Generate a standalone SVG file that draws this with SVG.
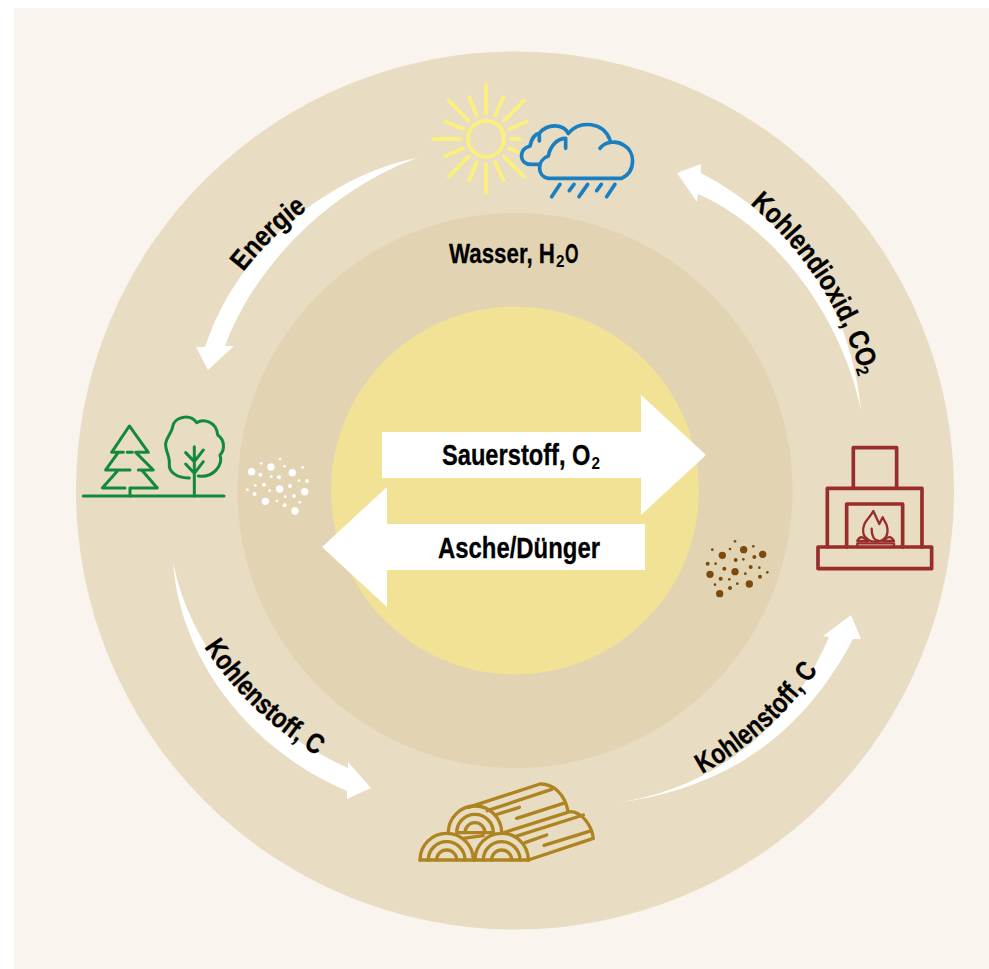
<svg xmlns="http://www.w3.org/2000/svg" width="989" height="969" viewBox="0 0 989 969">
<style>
text{font-family:"Liberation Sans",Arial,sans-serif;font-weight:700;fill:#000;font-size:28px;stroke:#000;stroke-width:.3px}
.m{font-size:29px}
.s{font-size:17px;stroke-width:0}
.i{fill:none;stroke-linecap:round;stroke-linejoin:round}
.a{fill:#fff}
</style>
<defs>
<path id="pe" d="M243,272 A350,350 0 0 1 350,182"/>
<path id="pk" d="M750,204 A365,365 0 0 1 872,420"/>
<path id="pl" d="M204,647 Q246,711 311,752 L340,770"/>
<path id="pr" d="M702,774 A345,345 0 0 0 845,625"/>
</defs>
<rect width="989" height="969" fill="#fff"/>
<rect x="14" y="8" width="975" height="961" fill="#f9f4ed"/>
<circle cx="515" cy="490.500" r="439" fill="#e8dcc2"/>
<circle cx="515" cy="490.500" r="277.500" fill="#e2d3b3"/>
<circle cx="515" cy="490.500" r="184" fill="#f1e295"/>

<g id="connectors">
<path class="a" d="M417,158 C340,172 240,240 205,347 L196,347 L208,370 L234,346 L225,346 C255,265 330,190 417,158Z"/>
<path class="a" d="M861,410 C850,300 790,220 701,173 L701,164 L677,173 L697,202 L698,194 C770,225 840,310 861,410Z"/>
<path class="a" d="M173,562 C190,650 260,730 348,768 L348,762 L371,788 L347,799 L347,791 C250,750 180,660 173,562Z"/>
<path class="a" d="M615,803 C710,790 790,730 829,637 L823,636 L851,615 L861,639 L853,639 C800,740 720,790 615,803Z"/>
<path class="a" d="M382,432H641V395L706,455L641,515V478H382Z"/>
<path class="a" d="M645,524H387V487L322,547L387,607V570H645Z"/>
</g>

<g id="label-wasser">
<text x="449" y="263" textLength="106" lengthAdjust="spacingAndGlyphs" style="font-size:27px">Wasser, H</text>
<text class="s" x="556" y="267" textLength="8.500" lengthAdjust="spacingAndGlyphs">2</text>
<text x="565" y="263" textLength="13.500" lengthAdjust="spacingAndGlyphs" style="font-size:27px">O</text>
</g>
<g id="label-sauerstoff">
<text class="m" x="442" y="465" textLength="148.500" lengthAdjust="spacingAndGlyphs">Sauerstoff, O</text>
<text class="s" x="591.500" y="469" textLength="8.500" lengthAdjust="spacingAndGlyphs">2</text>
</g>
<g id="label-asche"><text class="m" x="438" y="558" textLength="162" lengthAdjust="spacingAndGlyphs">Asche/Dünger</text></g>
<g id="label-energie"><text><textPath href="#pe" textLength="90" lengthAdjust="spacingAndGlyphs">Energie</textPath></text></g>
<g id="label-co2">
<text><textPath href="#pk" textLength="200" lengthAdjust="spacingAndGlyphs">Kohlendioxid, CO</textPath></text>
<text class="s" transform="translate(855.400,368.400) rotate(72)" textLength="9" lengthAdjust="spacingAndGlyphs">2</text>
</g>
<g id="label-c-left"><text><textPath href="#pl" textLength="158" lengthAdjust="spacingAndGlyphs">Kohlenstoff, C</textPath></text></g>
<g id="label-c-right"><text><textPath href="#pr" textLength="157" lengthAdjust="spacingAndGlyphs">Kohlenstoff, C</textPath></text></g>

<g id="sun" class="i" transform="translate(420,70) scale(.3333)" stroke="#fbf07f" stroke-width="12">
<circle cx="198" cy="206" r="54"/>
<path d="M198,45V130M198,283V368M40,207H122M273,207H300M87,92L145,152M312,92L252,152M87,320L145,260M312,320L252,260M148,82L170,135M250,82L226,135M76,155L130,177M320,155L268,177M76,258L128,235M292,245L268,235M148,330L170,277M250,330L226,277"/>
</g>
<g id="cloud" class="i" transform="translate(420,70) scale(.3333)" stroke="#1a7fc1" stroke-width="11">
<path d="M540,235 C555,215 590,210 610,225 C648,245 648,305 605,325 L385,325 C350,320 350,270 385,258 C390,230 410,205 437,205 V235M445,190 C480,150 550,155 570,210"/>
<path d="M360,283 L335,283 C295,285 295,235 330,228 C335,205 345,192 358,190 V213M358,190 C385,158 430,163 445,190"/>
<path d="M420,343L395,380M462,343L448,362M503,343L477,380M544,343L530,362M585,343L560,380"/>
</g>

<g id="trees" class="i" transform="translate(70,400) scale(.3333)" stroke="#138a3b" stroke-width="9" stroke-linecap="butt">
<path d="M40,288H462"/>
<path d="M160,157H125L178,78L235,157H197M172,157H187M145,157L107,210H155M160,210H180M197,157L250,210H205M145,210L97,264H165M215,210L262,264H180V288"/>
<path d="M373,140V288M347,158L373,185L400,150M347,192L373,220L400,185"/>
<path d="M358,234 C320,235 295,215 298,190 C300,170 285,150 287,130 C290,110 305,100 308,80 C312,50 360,40 380,68 C400,55 440,65 443,105 C465,120 465,150 450,165 C460,195 430,235 385,228"/>
</g>
<g id="dots-white" transform="translate(70,400) scale(.3333)" fill="#fff">
<circle cx="545" cy="215" r="11"/><circle cx="603" cy="201" r="11"/><circle cx="667" cy="218" r="11"/><circle cx="704" cy="275" r="11"/><circle cx="629" cy="267" r="11"/><circle cx="586" cy="304" r="11"/><circle cx="675" cy="333" r="11"/><circle cx="571" cy="224" r="6"/><circle cx="574" cy="190" r="4"/><circle cx="630" cy="177" r="4"/><circle cx="644" cy="199" r="4"/><circle cx="698" cy="202" r="4"/><circle cx="604" cy="230" r="4"/><circle cx="627" cy="232" r="6"/><circle cx="687" cy="242" r="4"/><circle cx="711" cy="243" r="6"/><circle cx="660" cy="258" r="6"/><circle cx="582" cy="254" r="6"/><circle cx="556" cy="256" r="4"/><circle cx="532" cy="269" r="4"/><circle cx="554" cy="282" r="6"/><circle cx="599" cy="272" r="4"/><circle cx="646" cy="290" r="4"/><circle cx="672" cy="288" r="6"/><circle cx="689" cy="307" r="4"/><circle cx="621" cy="303" r="4"/><circle cx="644" cy="316" r="6"/>
</g>

<g id="dots-brown" transform="translate(690,430) scale(.3333)" fill="#7d4a0b">
<circle cx="135" cy="334" r="4"/><circle cx="67" cy="359" r="4"/><circle cx="120" cy="357" r="4"/><circle cx="161" cy="359" r="11"/><circle cx="190" cy="349" r="4"/><circle cx="97" cy="376" r="11"/><circle cx="218" cy="373" r="11"/><circle cx="193" cy="381" r="6"/><circle cx="137" cy="390" r="6"/><circle cx="160" cy="388" r="4"/><circle cx="53" cy="401" r="6"/><circle cx="77" cy="401" r="4"/><circle cx="103" cy="416" r="6"/><circle cx="182" cy="411" r="6"/><circle cx="208" cy="413" r="4"/><circle cx="135" cy="425" r="11"/><circle cx="60" cy="433" r="11"/><circle cx="166" cy="431" r="4"/><circle cx="232" cy="427" r="4"/><circle cx="92" cy="446" r="6"/><circle cx="118" cy="448" r="4"/><circle cx="210" cy="440" r="6"/><circle cx="75" cy="464" r="4"/><circle cx="142" cy="461" r="4"/><circle cx="178" cy="462" r="11"/><circle cx="120" cy="474" r="6"/><circle cx="89" cy="491" r="11"/>
</g>

<g id="fireplace" class="i" transform="translate(690,430) scale(.3333)" stroke="#992d2b" stroke-width="11">
<path d="M384,351H725V416H384Z"/>
<path d="M412,351V175H696V351M490,175V53H620V175M470,351V222H638V351"/>
<g stroke-width="7">
<path d="M502,351V340H612V351"/>
<path d="M550,243 C540,265 515,275 520,310 C525,330 545,335 555,335 C580,335 600,320 590,285 L578,262 L568,282 Z"/>
<path d="M545,296 C545,315 550,330 565,332"/>
<path d="M502,333 C510,312 525,325 535,333 L502,333M612,333 C600,312 590,325 578,333 L612,333"/>
</g>
</g>

<g id="logs" class="i" transform="translate(400,770) scale(.3333)" stroke="#ad8420" stroke-width="10">
<path d="M60,270H385"/>
<path d="M60,270A80,80 0 0 1 220,270M85,270A55,55 0 0 1 195,270M110,270A30,30 0 0 1 170,270"/>
<path d="M225,270A80,80 0 0 1 385,270M250,270A55,55 0 0 1 360,270M275,270A30,30 0 0 1 335,270"/>
<path d="M145,188A80,80 0 0 1 305,188M170,188A55,55 0 0 1 280,188M195,188A30,30 0 0 1 255,188M170,188H280"/>
<path d="M205,112L420,42 C460,40 495,75 503,120M262,122L455,58M285,135L358,112M350,145L497,98"/>
<path d="M305,190L510,125 C545,125 575,165 580,205 L385,270M345,200L550,135M375,218L440,195M432,226L575,182M190,205L250,197"/>
</g>
</svg>
